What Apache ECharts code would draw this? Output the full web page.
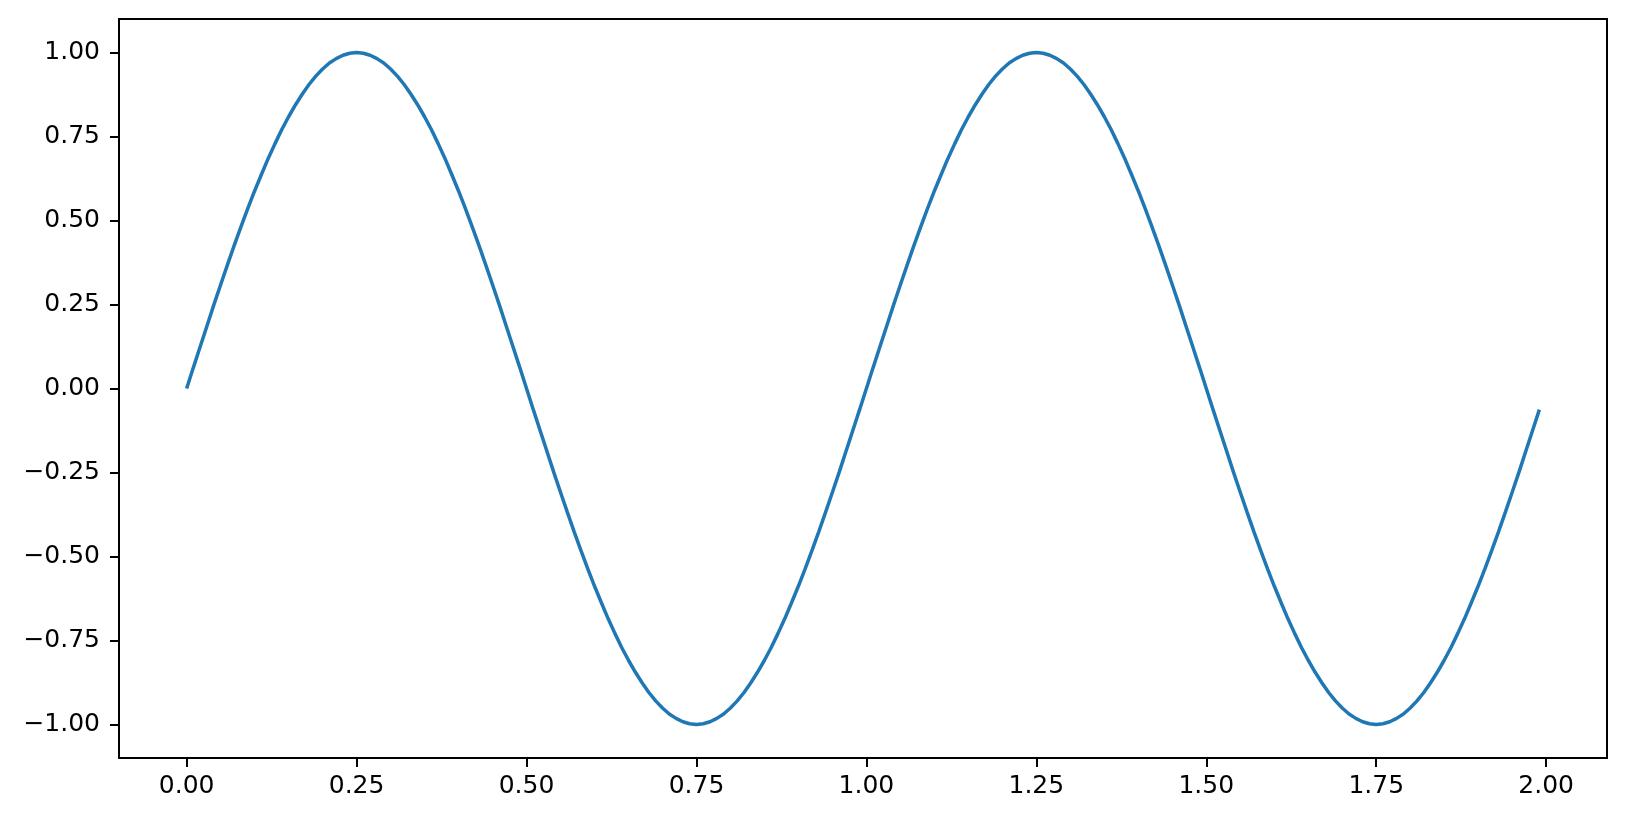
<!DOCTYPE html>
<html>
<head>
<meta charset="utf-8">
<script src="https://cdn.jsdelivr.net/npm/echarts@6/dist/echarts.min.js"></script>
<style>
html,body{margin:0;padding:0;background:#fff;}
#main{width:1626px;height:822px;}
</style>
</head>
<body>
<div id="main"></div>
<script>
// t values
var xs = [
0.00,0.01,0.02,0.03,0.04,0.05,0.06,0.07,0.08,0.09,0.10,0.11,0.12,0.13,0.14,0.15,0.16,0.17,0.18,0.19,
0.20,0.21,0.22,0.23,0.24,0.25,0.26,0.27,0.28,0.29,0.30,0.31,0.32,0.33,0.34,0.35,0.36,0.37,0.38,0.39,
0.40,0.41,0.42,0.43,0.44,0.45,0.46,0.47,0.48,0.49,0.50,0.51,0.52,0.53,0.54,0.55,0.56,0.57,0.58,0.59,
0.60,0.61,0.62,0.63,0.64,0.65,0.66,0.67,0.68,0.69,0.70,0.71,0.72,0.73,0.74,0.75,0.76,0.77,0.78,0.79,
0.80,0.81,0.82,0.83,0.84,0.85,0.86,0.87,0.88,0.89,0.90,0.91,0.92,0.93,0.94,0.95,0.96,0.97,0.98,0.99,
1.00,1.01,1.02,1.03,1.04,1.05,1.06,1.07,1.08,1.09,1.10,1.11,1.12,1.13,1.14,1.15,1.16,1.17,1.18,1.19,
1.20,1.21,1.22,1.23,1.24,1.25,1.26,1.27,1.28,1.29,1.30,1.31,1.32,1.33,1.34,1.35,1.36,1.37,1.38,1.39,
1.40,1.41,1.42,1.43,1.44,1.45,1.46,1.47,1.48,1.49,1.50,1.51,1.52,1.53,1.54,1.55,1.56,1.57,1.58,1.59,
1.60,1.61,1.62,1.63,1.64,1.65,1.66,1.67,1.68,1.69,1.70,1.71,1.72,1.73,1.74,1.75,1.76,1.77,1.78,1.79,
1.80,1.81,1.82,1.83,1.84,1.85,1.86,1.87,1.88,1.89,1.90,1.91,1.92,1.93,1.94,1.95,1.96,1.97,1.98,1.99
];
// curve values
var ys = [
0,0.063,0.125,0.187,0.249,0.309,0.368,0.426,0.482,0.536,
0.588,0.637,0.685,0.729,0.771,0.809,0.844,0.876,0.905,0.930,
0.951,0.969,0.982,0.992,0.998,1,0.998,0.992,0.982,0.969,
0.951,0.930,0.905,0.876,0.844,0.809,0.771,0.729,0.685,0.637,
0.588,0.536,0.482,0.426,0.368,0.309,0.249,0.187,0.125,0.063,
0,-0.063,-0.125,-0.187,-0.249,-0.309,-0.368,-0.426,-0.482,-0.536,
-0.588,-0.637,-0.685,-0.729,-0.771,-0.809,-0.844,-0.876,-0.905,-0.930,
-0.951,-0.969,-0.982,-0.992,-0.998,-1,-0.998,-0.992,-0.982,-0.969,
-0.951,-0.930,-0.905,-0.876,-0.844,-0.809,-0.771,-0.729,-0.685,-0.637,
-0.588,-0.536,-0.482,-0.426,-0.368,-0.309,-0.249,-0.187,-0.125,-0.063,
0,0.063,0.125,0.187,0.249,0.309,0.368,0.426,0.482,0.536,
0.588,0.637,0.685,0.729,0.771,0.809,0.844,0.876,0.905,0.930,
0.951,0.969,0.982,0.992,0.998,1,0.998,0.992,0.982,0.969,
0.951,0.930,0.905,0.876,0.844,0.809,0.771,0.729,0.685,0.637,
0.588,0.536,0.482,0.426,0.368,0.309,0.249,0.187,0.125,0.063,
0,-0.063,-0.125,-0.187,-0.249,-0.309,-0.368,-0.426,-0.482,-0.536,
-0.588,-0.637,-0.685,-0.729,-0.771,-0.809,-0.844,-0.876,-0.905,-0.930,
-0.951,-0.969,-0.982,-0.992,-0.998,-1,-0.998,-0.992,-0.982,-0.969,
-0.951,-0.930,-0.905,-0.876,-0.844,-0.809,-0.771,-0.729,-0.685,-0.637,
-0.588,-0.536,-0.482,-0.426,-0.368,-0.309,-0.249,-0.187,-0.125,-0.063
];
var xTicks = [0, 0.25, 0.5, 0.75, 1, 1.25, 1.5, 1.75, 2];
var yTicks = [-1, -0.75, -0.5, -0.25, 0, 0.25, 0.5, 0.75, 1];

var points = xs.map(function (x, i) { return [x, ys[i]]; });

function fmt(v) {
	var s = Math.abs(v).toFixed(2);
	return v < 0 ? '\u2212' + s : s;
}

var myChart = echarts.init(document.getElementById('main'));
var option = {
	animation: false,
	backgroundColor: '#fff',
	grid: {
		left: 119, top: 19, right: 19, bottom: 64,
		show: true,
		borderColor: '#000',
		borderWidth: 2
	},
	xAxis: {
		type: 'value',
		min: -0.0995,
		max: 2.0895,
		axisLine: { show: false, onZero: false },
		splitLine: { show: false },
		axisTick: {
			show: true,
			customValues: xTicks,
			length: 9,
			lineStyle: { color: '#000', width: 2 }
		},
		axisLabel: {
			customValues: xTicks,
			formatter: fmt,
			fontFamily: 'DejaVu Sans',
			fontSize: 25,
			color: '#000',
			margin: 16
		}
	},
	yAxis: {
		type: 'value',
		min: -1.1,
		max: 1.1,
		axisLine: { show: false, onZero: false },
		splitLine: { show: false },
		axisTick: {
			show: true,
			customValues: yTicks,
			length: 9,
			lineStyle: { color: '#000', width: 2 }
		},
		axisLabel: {
			customValues: yTicks,
			formatter: fmt,
			fontFamily: 'DejaVu Sans',
			fontSize: 25,
			color: '#000',
			margin: 19
		}
	},
	series: [{
		type: 'line',
		data: points,
		showSymbol: false,
		lineStyle: { color: '#1f77b4', width: 3.5 },
		itemStyle: { color: '#1f77b4' }
	}]
};
myChart.setOption(option);
</script>
</body>
</html>
